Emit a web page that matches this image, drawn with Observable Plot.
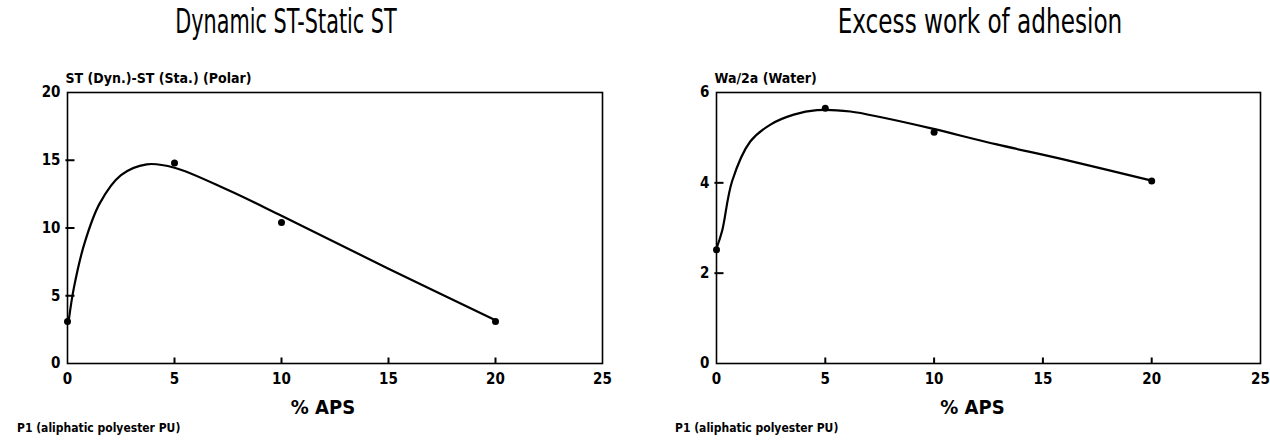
<!DOCTYPE html>
<html>
<head>
<meta charset="utf-8">
<script src="https://cdn.jsdelivr.net/npm/d3@7"></script>
<script src="https://cdn.jsdelivr.net/npm/@observablehq/plot@0.6"></script>
<style>
  html, body { margin: 0; padding: 0; background: #fff; }
  #wrap { position: relative; width: 1270px; height: 441px; overflow: hidden; font-family: "DejaVu Sans Condensed", "Liberation Sans Narrow", sans-serif; color: #000; }
  .title { position: absolute; top: 2px; font-family: "Liberation Sans Narrow", "DejaVu Sans Condensed", sans-serif; font-size: 33px; font-weight: normal; white-space: nowrap; transform-origin: center; }
  .panel { position: absolute; top: 45px; }
  .foot { position: absolute; top: 421px; font-size: 12px; font-weight: bold; white-space: nowrap; }
</style>
</head>
<body>
<div id="wrap"></div>
<script>
// ---- data ----
const aps = [0, 5, 10, 20];
const stDiff = [3.1, 14.8, 10.4, 3.1];
const waRatio = [2.52, 5.65, 5.12, 4.04];

const stCurveX = [0.06, 0.3, 0.8, 1.5, 2.5, 3.7, 5, 7.5, 10, 15, 20];
const stCurveY = [3.2, 5.6, 8.9, 11.8, 13.9, 14.7, 14.45, 12.8, 10.9, 7.0, 3.2];

const waCurveX = [0, 0.26, 0.72, 1.56, 2.48, 3.55, 4.62, 6.15, 7.68, 9.82, 12.88, 15.94, 20];
const waCurveY = [2.55, 2.94, 4.04, 4.92, 5.29, 5.51, 5.61, 5.58, 5.44, 5.21, 4.85, 4.52, 4.05];

const xTicks = [0, 5, 10, 15, 20, 25];
const stTicks = [0, 5, 10, 15, 20];
const waTicks = [0, 2, 4, 6];

const titles = ["Dynamic ST-Static ST", "Excess work of adhesion"];
const yLabels = ["ST (Dyn.)-ST (Sta.) (Polar)", "Wa/2a (Water)"];
const xLabel = "% APS";
const footnote = "P1 (aliphatic polyester PU)";

// ---- build ----
const font = "DejaVu Sans Condensed, Liberation Sans Narrow, sans-serif";
const wrap = document.getElementById("wrap");

function panel({left, mLeft, mRight, yDomain, yTicks, pts, curve, yLabel, xLabelDx, title, titleX, titleScale, footX}) {
  const t = document.createElement("div");
  t.className = "title";
  t.style.left = titleX + "px";
  t.style.transform = `translateX(-50%) scaleX(${titleScale})`;
  t.textContent = title;
  wrap.appendChild(t);

  const W = 635, H = 375, mTop = 47, mBottom = 57;
  const innerW = W - mLeft - mRight, innerH = H - mTop - mBottom;
  // inward tick lengths expressed through the scales (about 7px / 6px)
  const xLen = 25 * 7 / innerW;
  const yLen = (yDomain[1] - yDomain[0]) * 6 / innerH;

  const chart = Plot.plot({
    width: W,
    height: H,
    marginTop: mTop,
    marginBottom: mBottom,
    marginLeft: mLeft,
    marginRight: mRight,
    style: {fontFamily: font, color: "#000", background: "transparent", overflow: "visible"},
    x: {domain: [0, 25]},
    y: {domain: yDomain},
    marks: [
      Plot.frame({stroke: "#000", strokeWidth: 1.6}),
      Plot.axisX(xTicks, {tickSize: 0, tickPadding: 10, fontSize: 15, fontWeight: "bold", label: null}),
      Plot.axisY(yTicks, {tickSize: 0, tickPadding: 7, fontSize: 15, fontWeight: "bold", label: null}),
      Plot.link(xTicks.slice(1, -1), {x1: d => d, x2: d => d, y1: () => yDomain[0], y2: () => yDomain[0] + yLen, stroke: "#000", strokeWidth: 2}),
      Plot.link(yTicks.slice(1, -1), {y1: d => d, y2: d => d, x1: () => -xLen * 0.3, x2: () => xLen, stroke: "#000", strokeWidth: 2}),
      Plot.line(curve, {x: "x", y: "y", curve: "catmull-rom", stroke: "#000", strokeWidth: 2.2}),
      Plot.dot(pts, {x: "x", y: "y", r: 3.5, fill: "#000", stroke: "none"}),
      Plot.text([yLabel], {frameAnchor: "top-left", text: d => d, dx: -2, dy: -14, textAnchor: "start", lineAnchor: "middle", fontSize: 14, fontWeight: "bold"}),
      Plot.text([xLabel], {frameAnchor: "bottom", text: d => d, dx: xLabelDx, dy: 44, lineAnchor: "middle", fontSize: 20, fontWeight: "bold"})
    ]
  });
  chart.classList.add("panel");
  chart.style.left = left + "px";
  wrap.appendChild(chart);

  const f = document.createElement("div");
  f.className = "foot";
  f.style.left = footX + "px";
  f.textContent = footnote;
  wrap.appendChild(f);
}

panel({
  left: 0, mLeft: 67, mRight: 33, yDomain: [0, 20], yTicks: stTicks,
  pts: aps.map((x, i) => ({x, y: stDiff[i]})),
  curve: stCurveX.map((x, i) => ({x, y: stCurveY[i]})),
  yLabel: yLabels[0], xLabelDx: -12, title: titles[0], titleX: 286, titleScale: 0.70, footX: 17
});
panel({
  left: 635, mLeft: 81, mRight: 10, yDomain: [0, 6], yTicks: waTicks,
  pts: aps.map((x, i) => ({x, y: waRatio[i]})),
  curve: waCurveX.map((x, i) => ({x, y: waCurveY[i]})),
  yLabel: yLabels[1], xLabelDx: -16, title: titles[1], titleX: 980, titleScale: 0.78, footX: 675
});
</script>
</body>
</html>
